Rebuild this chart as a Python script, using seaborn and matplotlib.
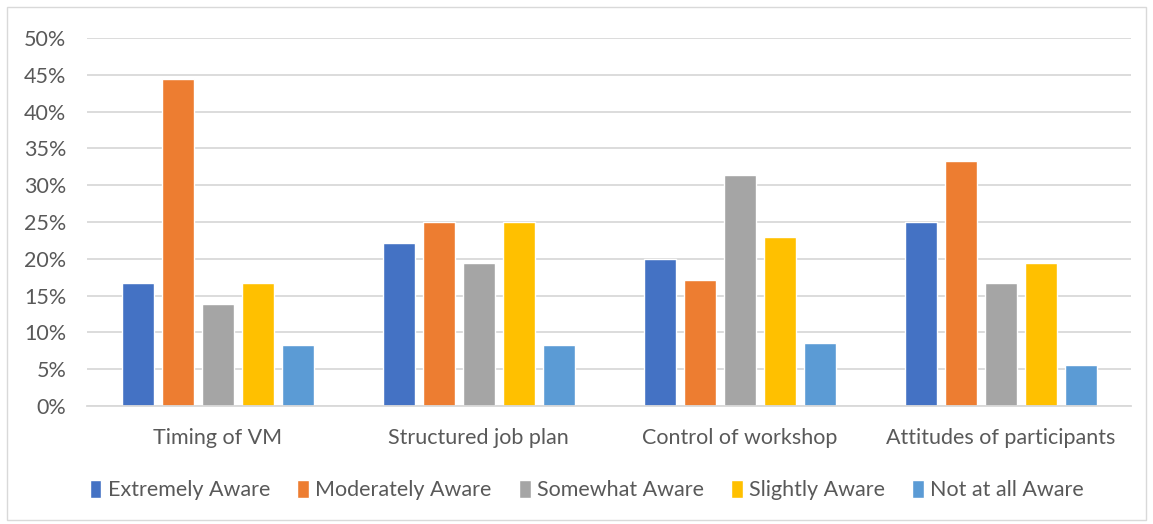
#!/usr/bin/env python3
"""Grouped bar chart: awareness levels by VM factor."""
import pandas as pd
import matplotlib.pyplot as plt
import matplotlib.ticker as mticker
from matplotlib.patches import Rectangle
import seaborn as sns

categories = ['Timing of VM', 'Structured job plan', 'Control of workshop',
              'Attitudes of participants']
levels = ['Extremely Aware', 'Moderately Aware', 'Somewhat Aware',
          'Slightly Aware', 'Not at all Aware']

extremely = [0.167, 0.222, 0.200, 0.250]
moderately = [0.444, 0.250, 0.171, 0.333]
somewhat = [0.139, 0.194, 0.314, 0.167]
slightly = [0.167, 0.250, 0.229, 0.194]
not_at_all = [0.083, 0.083, 0.086, 0.056]

colors = ['#4472C4', '#ED7D31', '#A5A5A5', '#FFC000', '#5B9BD5']

series = [extremely, moderately, somewhat, slightly, not_at_all]
df = pd.DataFrame([
    {'factor': cat, 'level': lvl, 'share': vals[i]}
    for lvl, vals in zip(levels, series)
    for i, cat in enumerate(categories)
])

sns.set_style('white')
plt.rcParams['font.family'] = ['Lato', 'DejaVu Sans']
text_color = '#595959'
grid_color = '#D9D9D9'

fig = plt.figure(figsize=(11.53, 5.24), dpi=100)
ax = fig.add_axes([0.0755, 0.2252, 0.9055, 0.7023])

sns.barplot(data=df, x='factor', y='share', hue='level', order=categories,
            hue_order=levels, palette=colors, width=0.766, gap=0.2,
            saturation=1, ax=ax, legend=True)

ax.set_ylim(0, 0.5)
ax.yaxis.set_major_locator(mticker.MultipleLocator(0.05))
ax.yaxis.set_major_formatter(mticker.PercentFormatter(1.0, decimals=0))
ax.grid(axis='y', color=grid_color, linewidth=1.3)
ax.set_axisbelow(True)
for side in ['top', 'right', 'left']:
    ax.spines[side].set_visible(False)
ax.spines['bottom'].set_color(grid_color)
ax.spines['bottom'].set_linewidth(1.3)
ax.tick_params(axis='both', length=0, labelsize=15.5, colors=text_color)
ax.tick_params(axis='x', pad=16)
ax.tick_params(axis='y', pad=15)
ax.set_xlabel('')
ax.set_ylabel('')

handles, labels = ax.get_legend_handles_labels()
ax.legend(handles, labels, loc='center', bbox_to_anchor=(0.509, 0.065),
          bbox_transform=fig.transFigure, ncol=5, frameon=False,
          fontsize=15.5, labelcolor=text_color, handlelength=0.55,
          handleheight=0.9, handletextpad=0.3, columnspacing=1.25)

fig.patches.append(Rectangle((0.006, 0.008), 0.988, 0.978, transform=fig.transFigure,
                             fill=False, edgecolor='#D9D9D9', linewidth=1))

plt.savefig('out.png', dpi=100)
plt.close()
